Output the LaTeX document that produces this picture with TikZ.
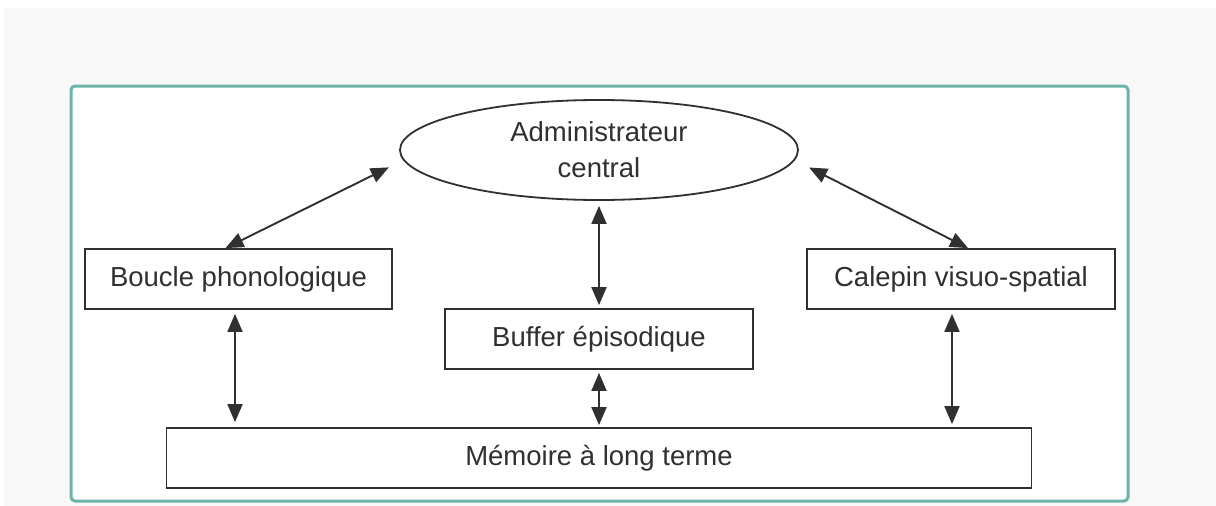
\documentclass[tikz,border=0pt]{standalone}
\usepackage{fontspec}
\setmainfont{Liberation Sans}
\usetikzlibrary{shapes.geometric,arrows.meta}
\definecolor{teal1}{HTML}{6DB3A8}
\definecolor{ink}{HTML}{303030}
\definecolor{bggray}{HTML}{F8F8F8}
\tikzset{
  box/.style={draw=ink, line width=1.8pt, minimum height=60pt, inner sep=0pt, fill=white,
    font=\fontsize{27.5}{33}\selectfont, text=ink},
  conn/.style={draw=ink, line width=1.9pt, {Triangle[length=18pt,width=15pt]}-{Triangle[length=18pt,width=15pt]}},
}
\begin{document}
\begin{tikzpicture}[x=1pt,y=-1pt]
\useasboundingbox (0,0) rectangle (1216,506);
\fill[white] (0,0) rectangle (1216,506);
\fill[bggray] (4,8) rectangle (1216,506);
\draw[teal1, line width=3pt, fill=white, rounded corners=4pt] (71,86) rectangle (1128,501);

\node[box, ellipse, minimum width=398pt, minimum height=100pt, align=center,
  font=\fontsize{27.5}{36}\selectfont] (admin) at (599,150) {Administrateur\\central};
\node[box, minimum width=307pt] (boucle) at (238.5,279) {Boucle phonologique};
\node[box, minimum width=308pt] (buffer) at (599,339) {Buffer épisodique};
\node[box, minimum width=308pt] (calepin) at (961,279) {Calepin visuo-spatial};
\node[box, minimum width=865pt] (memoire) at (599,458) {Mémoire à long terme};

\draw[conn, shorten <=0pt, shorten >=16pt] ([xshift=-13pt]boucle.north) -- (admin.183);
\draw[conn, shorten <=0pt, shorten >=16pt] ([xshift=7pt]calepin.north) -- (admin.357);
\draw[conn, shorten <=5pt, shorten >=3pt] (admin.south) -- (buffer.north);
\draw[conn, shorten <=4pt, shorten >=5pt] ([xshift=-3.5pt]boucle.south) -- ([xshift=-3.5pt]boucle.south |- memoire.north);
\draw[conn, shorten <=3pt, shorten >=2pt] (buffer.south) -- (memoire.north);
\draw[conn, shorten <=4pt, shorten >=3pt] ([xshift=-9pt]calepin.south) -- ([xshift=-9pt]calepin.south |- memoire.north);
\end{tikzpicture}
\end{document}
